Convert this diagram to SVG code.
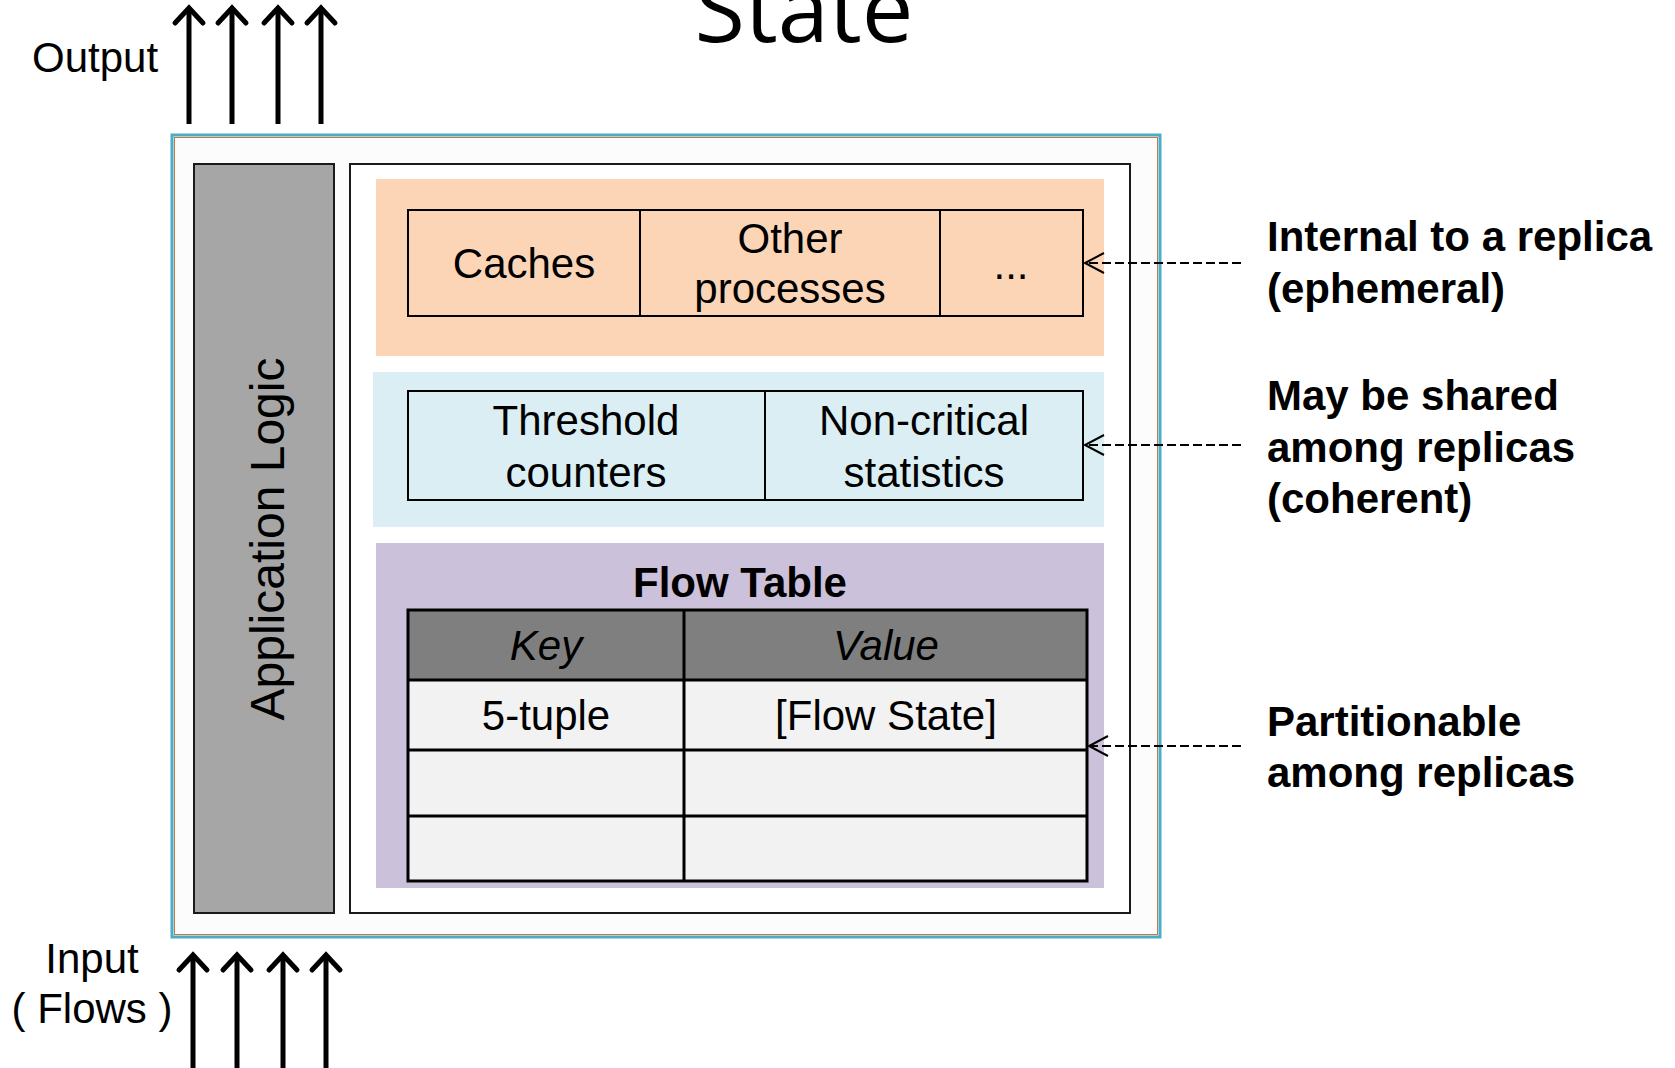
<svg xmlns="http://www.w3.org/2000/svg" width="1675" height="1068" viewBox="0 0 1675 1068">
  <style>
    .t { font-family: "Liberation Sans", Arial, sans-serif; font-size: 42px; fill: #000; }
    .c { text-anchor: middle; }
    .b { font-weight: bold; }
    .i { font-style: italic; }
    .cell { stroke: #000; stroke-width: 2; }
    .tbl { stroke: #000; stroke-width: 3; }
    .flow { stroke: #000; stroke-width: 5; fill: none; }
    .dash { stroke: #000; stroke-width: 2; stroke-dasharray: 9 4; fill: none; }
  </style>
  <defs>
    <marker id="bigHead" markerUnits="userSpaceOnUse" viewBox="-20 -20 30 40" markerWidth="30" markerHeight="40" refX="0" refY="0" orient="auto" overflow="visible">
      <path d="M -15,-14 L 0,0 L -15,14" fill="none" stroke="#000" stroke-width="5" stroke-linecap="round" stroke-linejoin="miter"/>
    </marker>
    <marker id="thinHead" markerUnits="userSpaceOnUse" viewBox="-22 -12 26 24" markerWidth="26" markerHeight="24" refX="0" refY="0" orient="auto" overflow="visible">
      <path d="M -19,-10 L 0,0 L -19,10" fill="none" stroke="#000" stroke-width="2" stroke-dasharray="none"/>
    </marker>
  </defs>

  <rect width="1675" height="1068" fill="#ffffff"/>

  <!-- title, partly above the top edge -->
  <text x="804" y="42" style="font-family: 'Open Sans', 'Liberation Sans', sans-serif; font-size: 92px; text-anchor: middle;">State</text>

  <!-- replica frame -->
  <g id="replica">
    <rect x="172" y="135" width="988" height="802" fill="#fcfcfc" stroke="#4bacc6" stroke-width="3"/>
    <rect x="174.5" y="137.5" width="983" height="797" fill="none" stroke="#c07a45" stroke-width="1"/>
  </g>

  <g id="app-logic">
    <rect x="194" y="164" width="140" height="749" fill="#a6a6a6" stroke="#1a1a1a" stroke-width="2"/>
    <text class="t" transform="translate(284,539) rotate(-90)" style="font-size:48px; text-anchor:middle;">Application Logic</text>
  </g>

  <g id="state-store">
    <rect x="350" y="164" width="780" height="749" fill="#ffffff" stroke="#1a1a1a" stroke-width="2"/>
  </g>

  <!-- ephemeral state -->
  <g id="internal-state">
    <rect x="376" y="179" width="728" height="177" fill="#fbd5b5"/>
    <rect class="cell" x="408" y="210" width="675" height="106" fill="#fbd5b5"/>
    <line class="cell" x1="640" y1="210" x2="640" y2="316"/>
    <line class="cell" x1="940" y1="210" x2="940" y2="316"/>
    <text class="t c" x="524" y="278">Caches</text>
    <text class="t c" x="790" y="253">Other</text>
    <text class="t c" x="790" y="303">processes</text>
    <text class="t c" x="1011" y="279">...</text>
  </g>

  <!-- coherent state -->
  <g id="shared-state">
    <rect x="373" y="372" width="731" height="155" fill="#daeef3"/>
    <rect class="cell" x="408" y="391" width="675" height="109" fill="#daeef3"/>
    <line class="cell" x1="765" y1="391" x2="765" y2="500"/>
    <text class="t c" x="586" y="435">Threshold</text>
    <text class="t c" x="586" y="487">counters</text>
    <text class="t c" x="924" y="435">Non-critical</text>
    <text class="t c" x="924" y="487">statistics</text>
  </g>

  <!-- partitionable state -->
  <g id="flow-table">
    <rect x="376" y="543" width="728" height="345" fill="#ccc1da"/>
    <text class="t c b" x="740" y="597">Flow Table</text>
    <rect x="408" y="610" width="679" height="70" fill="#7f7f7f"/>
    <rect x="408" y="680" width="679" height="201" fill="#f2f2f2"/>
    <rect class="tbl" x="408" y="610" width="679" height="271" fill="none"/>
    <line class="tbl" x1="408" y1="680" x2="1087" y2="680"/>
    <line class="tbl" x1="408" y1="750" x2="1087" y2="750"/>
    <line class="tbl" x1="408" y1="816" x2="1087" y2="816"/>
    <line class="tbl" x1="684" y1="610" x2="684" y2="881"/>
    <text class="t c i" x="546" y="660">Key</text>
    <text class="t c i" x="886" y="660">Value</text>
    <text class="t c" x="546" y="730">5-tuple</text>
    <text class="t c" x="886" y="730">[Flow State]</text>
  </g>

  <!-- flows in and out, and the state annotations -->
  <g id="connectors">
    <line class="flow" x1="189" y1="124" x2="189" y2="8" marker-end="url(#bigHead)"/>
    <line class="flow" x1="232" y1="124" x2="232" y2="8" marker-end="url(#bigHead)"/>
    <line class="flow" x1="278" y1="124" x2="278" y2="8" marker-end="url(#bigHead)"/>
    <line class="flow" x1="321" y1="124" x2="321" y2="8" marker-end="url(#bigHead)"/>

    <line class="flow" x1="193" y1="1068" x2="193" y2="955" marker-end="url(#bigHead)"/>
    <line class="flow" x1="237" y1="1068" x2="237" y2="955" marker-end="url(#bigHead)"/>
    <line class="flow" x1="283" y1="1068" x2="283" y2="955" marker-end="url(#bigHead)"/>
    <line class="flow" x1="326" y1="1068" x2="326" y2="955" marker-end="url(#bigHead)"/>

    <line class="dash" x1="1241" y1="263" x2="1085" y2="263" marker-end="url(#thinHead)"/>
    <line class="dash" x1="1241" y1="445" x2="1085" y2="445" marker-end="url(#thinHead)"/>
    <line class="dash" x1="1241" y1="746" x2="1089" y2="746" marker-end="url(#thinHead)"/>
  </g>

  <g id="io-labels">
    <text class="t" x="32" y="72">Output</text>
    <text class="t c" x="92" y="973">Input</text>
    <text class="t c" x="92" y="1023">( Flows )</text>
  </g>

  <g id="annotations">
    <text class="t b" x="1267" y="251">Internal to a replica</text>
    <text class="t b" x="1267" y="303">(ephemeral)</text>
    <text class="t b" x="1267" y="410">May be shared</text>
    <text class="t b" x="1267" y="462">among replicas</text>
    <text class="t b" x="1267" y="513">(coherent)</text>
    <text class="t b" x="1267" y="736">Partitionable</text>
    <text class="t b" x="1267" y="787">among replicas</text>
  </g>
</svg>
